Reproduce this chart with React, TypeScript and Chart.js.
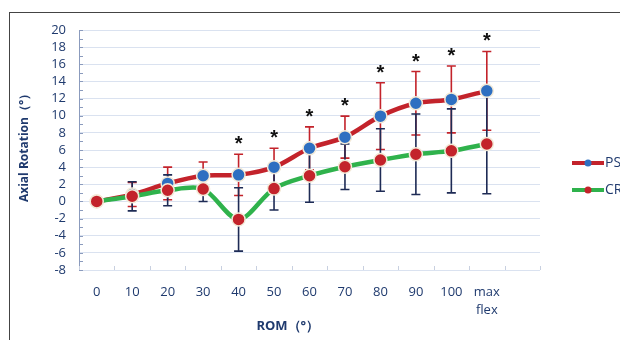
import React, { useEffect, useRef } from 'react';
import { Chart, registerables } from 'chart.js';

Chart.register(...registerables);

const categories: (string | string[])[] = ['0', '10', '20', '30', '40', '50', '60', '70', '80', '90', '100', ['max', 'flex'], ''];
const psValues = [0, 0.8, 2.1, 3.0, 3.1, 4.0, 6.2, 7.5, 9.95, 11.45, 11.9, 12.9];
const psErrors = [0, 1.4, 1.9, 1.6, 2.4, 2.2, 2.5, 2.45, 3.9, 3.7, 3.9, 4.6];
const crValues = [0, 0.6, 1.3, 1.45, -2.1, 1.5, 3.0, 4.05, 4.83, 5.5, 5.9, 6.7];
const crErrors = [0, 1.7, 1.8, 1.45, 3.7, 2.5, 3.1, 2.65, 3.65, 4.7, 4.9, 5.8];
const significant = [false, false, false, false, true, true, true, true, true, true, true, true];
const yMin = -8;
const yMax = 20;
const yStep = 2;

const NAVY = '#1f3a6e';
const RED = '#c3232b';
const GREEN = '#2fb24c';
const BLUE = '#2e6fc1';
const BAR_NAVY = '#1e2b55';
const FONT = "'Open Sans', 'Noto Sans', sans-serif";

export default function App() {
  const ref = useRef<HTMLCanvasElement>(null);

  useEffect(() => {
    const canvas = ref.current;
    if (!canvas) return;

    const overlay = {
      id: 'overlay',
      beforeDraw(chart: any) {
        const ctx = chart.ctx;
        ctx.save();
        ctx.strokeStyle = '#444';
        ctx.lineWidth = 1;
        ctx.strokeRect(9.5, 12.5, 800, 500);
        ctx.restore();
      },
      beforeDatasetsDraw(chart: any) {
        const ctx = chart.ctx;
        const x = chart.scales.x;
        const y = chart.scales.y;
        const area = chart.chartArea;
        ctx.save();
        // minor ticks on y axis
        ctx.strokeStyle = '#8b9bbd';
        ctx.lineWidth = 1;
        for (let v = yMin; v <= yMax; v += 1) {
          const py = Math.round(y.getPixelForValue(v)) + 0.5;
          ctx.beginPath();
          ctx.moveTo(area.left, py);
          ctx.lineTo(area.left + 4, py);
          ctx.stroke();
        }
        // small ticks on x axis between categories
        ctx.strokeStyle = '#c8d0e0';
        for (let i = 0; i <= categories.length; i++) {
          const px = Math.round(x.getPixelForValue(i - 0.5)) + 0.5;
          ctx.beginPath();
          ctx.moveTo(px, area.bottom);
          ctx.lineTo(px, area.bottom - 4);
          ctx.stroke();
        }
        // error bars
        const drawBars = (vals: number[], errs: number[], color: string) => {
          ctx.strokeStyle = color;
          ctx.lineWidth = 1.6;
          vals.forEach((v, i) => {
            const e = errs[i];
            if (!e) return;
            const px = x.getPixelForValue(i);
            const top = y.getPixelForValue(v + e);
            const bot = y.getPixelForValue(v - e);
            ctx.beginPath();
            ctx.moveTo(px, top);
            ctx.lineTo(px, bot);
            ctx.moveTo(px - 4.5, top);
            ctx.lineTo(px + 4.5, top);
            ctx.moveTo(px - 4.5, bot);
            ctx.lineTo(px + 4.5, bot);
            ctx.stroke();
          });
        };
        drawBars(psValues, psErrors, RED);
        drawBars(crValues, crErrors, BAR_NAVY);
        ctx.restore();
      },
      afterDraw(chart: any) {
        const ctx = chart.ctx;
        const x = chart.scales.x;
        const y = chart.scales.y;
        const area = chart.chartArea;
        ctx.save();
        // asterisks
        ctx.fillStyle = '#111';
        ctx.font = `bold 20px 'Liberation Sans', sans-serif`;
        ctx.textAlign = 'center';
        ctx.textBaseline = 'alphabetic';
        significant.forEach((s, i) => {
          if (!s) return;
          const px = x.getPixelForValue(i);
          const top = y.getPixelForValue(psValues[i] + psErrors[i]);
          ctx.fillText('*', px, top - 16 + 12);
        });
        // y title
        ctx.fillStyle = NAVY;
        ctx.font = `bold 12px ${FONT}`;
        ctx.textBaseline = 'middle';
        ctx.save();
        ctx.translate(25, (area.top + area.bottom) / 2 - 5);
        ctx.rotate(-Math.PI / 2);
        ctx.fillText('Axial Rotation（°）', 0, 0);
        ctx.restore();
        // x title
        ctx.font = `bold 13px ${FONT}`;
        const cx = (x.getPixelForValue(0) + x.getPixelForValue(psValues.length - 1)) / 2 - 4;
        ctx.fillText('ROM（°）', cx, 326);
        // legend
        const items = [
          { label: 'PS', line: RED, dot: BLUE, y: 163 },
          { label: 'CR', line: GREEN, dot: RED, y: 190 },
        ];
        items.forEach((it) => {
          ctx.strokeStyle = it.line;
          ctx.lineWidth = 4;
          ctx.beginPath();
          ctx.moveTo(572, it.y);
          ctx.lineTo(604, it.y);
          ctx.stroke();
          ctx.fillStyle = it.dot;
          ctx.beginPath();
          ctx.arc(588, it.y, 3.5, 0, Math.PI * 2);
          ctx.fill();
          ctx.fillStyle = NAVY;
          ctx.font = `14px ${FONT}`;
          ctx.textAlign = 'left';
          ctx.textBaseline = 'middle';
          ctx.fillText(it.label, 605, it.y);
        });
        ctx.restore();
      },
    };

    const chart = new Chart(canvas, {
      type: 'line',
      data: {
        labels: categories,
        datasets: [
          {
            label: 'CR',
            data: crValues,
            borderColor: GREEN,
            borderWidth: 4.5,
            tension: 0.3,
            pointRadius: 6.5,
            pointBackgroundColor: RED,
            pointBorderColor: '#f3ead8',
            pointBorderWidth: 1.5,
            fill: false,
          },
          {
            label: 'PS',
            data: psValues,
            borderColor: RED,
            borderWidth: 4.5,
            tension: 0.3,
            pointRadius: 6.5,
            pointBackgroundColor: BLUE,
            pointBorderColor: '#f3ead8',
            pointBorderWidth: 1.5,
            fill: false,
          },
        ],
      },
      options: {
        responsive: false,
        animation: false,
        layout: { padding: { top: 30, right: 80, left: 0, bottom: 0 } },
        plugins: {
          legend: { display: false },
          tooltip: { enabled: false },
        },
        scales: {
          x: {
            offset: true,
            afterFit(s: any) { s.height = 70; },
            grid: { display: false, offset: true },
            border: { display: false },
            ticks: {
              color: NAVY,
              font: { size: 13, family: FONT, lineHeight: 1.35 },
              padding: 6,
              maxRotation: 0,
              autoSkip: false,
            },
          },
          y: {
            min: yMin,
            max: yMax,
            afterFit(s: any) { s.width = 79; },
            grid: { color: '#dae2f0', drawTicks: false },
            border: { color: '#8b9bbd', width: 1 },
            ticks: {
              stepSize: yStep,
              autoSkip: false,
              color: NAVY,
              font: { size: 13, family: FONT },
              padding: 13,
            },
          },
        },
      },
      plugins: [overlay],
    } as any);

    return () => chart.destroy();
  }, []);

  return (
    <div style={{ position: 'fixed', left: 0, top: 0, width: 620, height: 340, background: '#fff' }}>
      <canvas ref={ref} width={620} height={340} style={{ width: 620, height: 340, display: 'block' }} />
    </div>
  );
}
